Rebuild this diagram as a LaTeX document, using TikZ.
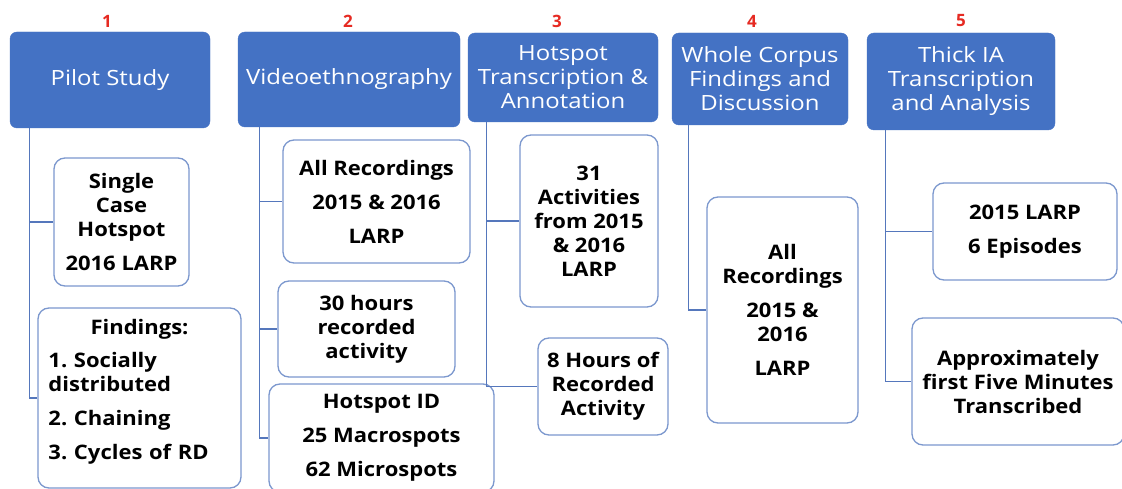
\documentclass[tikz,border=0pt]{standalone}
\usepackage{fontspec}
\setmainfont{Open Sans}
\newfontfamily\headfont[FakeStretch=1.14]{Open Sans}
\newfontfamily\itemfont[FakeStretch=1.1]{Open Sans}
\usetikzlibrary{positioning}
\definecolor{headblue}{HTML}{4472C4}
\definecolor{rimblue}{HTML}{7C98CE}
\definecolor{linkblue}{HTML}{5577BC}
\definecolor{numred}{HTML}{E62A22}
\frenchspacing

\begin{document}
\begin{tikzpicture}[x=1pt,y=-1pt]
\tikzset{
  head/.style={fill=headblue,draw=headblue,rounded corners=7pt,text=white,
    align=center,font=\headfont\fontsize{21}{24}\selectfont,inner sep=0pt},
  item/.style={fill=white,draw=rimblue,line width=1.3pt,rounded corners=11pt,
    align=center,font=\itemfont\fontsize{20}{24}\selectfont\bfseries,inner sep=0pt},
  num/.style={text=numred,font=\fontsize{17}{18}\selectfont\bfseries},
  link/.style={draw=linkblue,line width=1.2pt}}
\useasboundingbox[fill=white] (0,0) rectangle (1122,489);
% ---- step numbers ----
\node[num] (n1) at (107,21) {1};
\node[num] (n2) at (348,21) {2};
\node[num] (n3) at (557,21) {3};
\node[num] (n4) at (752,21) {4};
\node[num] (n5) at (961,21) {5};
% ---- headers ----
\node[head,minimum width=200pt,minimum height=96pt] (p1) at (110,80) {Pilot Study};
\node[head,minimum width=222pt,minimum height=95pt] (p2) at (349,79.5) {Videoethnography};
\node[head,minimum width=190pt,minimum height=89pt] (p3) at (563,77.5)
  {Hotspot\\Transcription \&\\Annotation};
\node[head,minimum width=176pt,minimum height=92pt] (p4) at (760,79)
  {Whole Corpus\\Findings and\\Discussion};
\node[head,minimum width=188pt,minimum height=97pt] (p5) at (961,81.5)
  {Thick IA\\Transcription\\and Analysis};
% ---- trunks ----
\foreach \p/\d in {p1/20,p2/22,p3/19,p4/17,p5/19}
  \coordinate (\p t) at ([xshift=\d pt]\p.south west);
% ---- 1 ----
\node[item,minimum width=135pt,minimum height=128pt] (s1a) at (121.5,222)
  {Single\\Case\\Hotspot\\[10pt]2016 LARP};
\node[item,minimum width=203pt,minimum height=180pt,text width=182pt,align=left]
  (s1b) at (139.5,398)
  {\hfill Findings:\hfill\mbox{}\\[9pt]1. Socially\\distributed\\[10pt]2. Chaining\\[10pt]3. Cycles of RD\\[-6pt]\mbox{}};
\draw[link] (p1t) |- (s1a.west);
\draw[link] (p1t) |- (s1b.west);
% ---- 2 ----
\node[item,minimum width=187pt,minimum height=123pt] (s2a) at (376.5,201.5)
  {All Recordings\\[10pt]2015 \& 2016\\[10pt]LARP};
\node[item,minimum width=177pt,minimum height=96pt] (s2b) at (366.5,329)
  {30 hours\\recorded\\activity};
\node[item,minimum width=225pt,minimum height=108pt] (s2c) at (381.5,438)
  {Hotspot ID\\[10pt]25 Macrospots\\[10pt]62 Microspots};
\draw[link] (p2t) |- (s2a.west);
\draw[link] (p2t) |- (s2b.west);
\draw[link] (p2t) |- (s2c.west);
% ---- 3 ----
\node[item,minimum width=138pt,minimum height=172pt] (s3a) at (589,221)
  {31\\Activities\\from 2015\\\& 2016\\LARP};
\node[item,minimum width=130pt,minimum height=97pt] (s3b) at (603,386.5)
  {8 Hours of\\Recorded\\Activity};
\draw[link] (p3t) |- (s3a.west);
\draw[link] (p3t) |- (s3b.west);
% ---- 4 ----
\node[item,minimum width=151pt,minimum height=226pt] (s4a) at (782.5,310)
  {All\\Recordings\\[10pt]2015 \&\\2016\\[10pt]LARP};
\draw[link] (p4t) |- (s4a.west);
% ---- 5 ----
\node[item,minimum width=184pt,minimum height=97pt] (s5a) at (1025,231.5)
  {2015 LARP\\[10pt]6 Episodes};
\node[item,minimum width=212pt,minimum height=127pt] (s5b) at (1018,381.5)
  {Approximately\\first Five Minutes\\Transcribed};
\draw[link] (p5t) |- (s5a.west);
\draw[link] (p5t) |- (s5b.west);
\end{tikzpicture}
\end{document}
